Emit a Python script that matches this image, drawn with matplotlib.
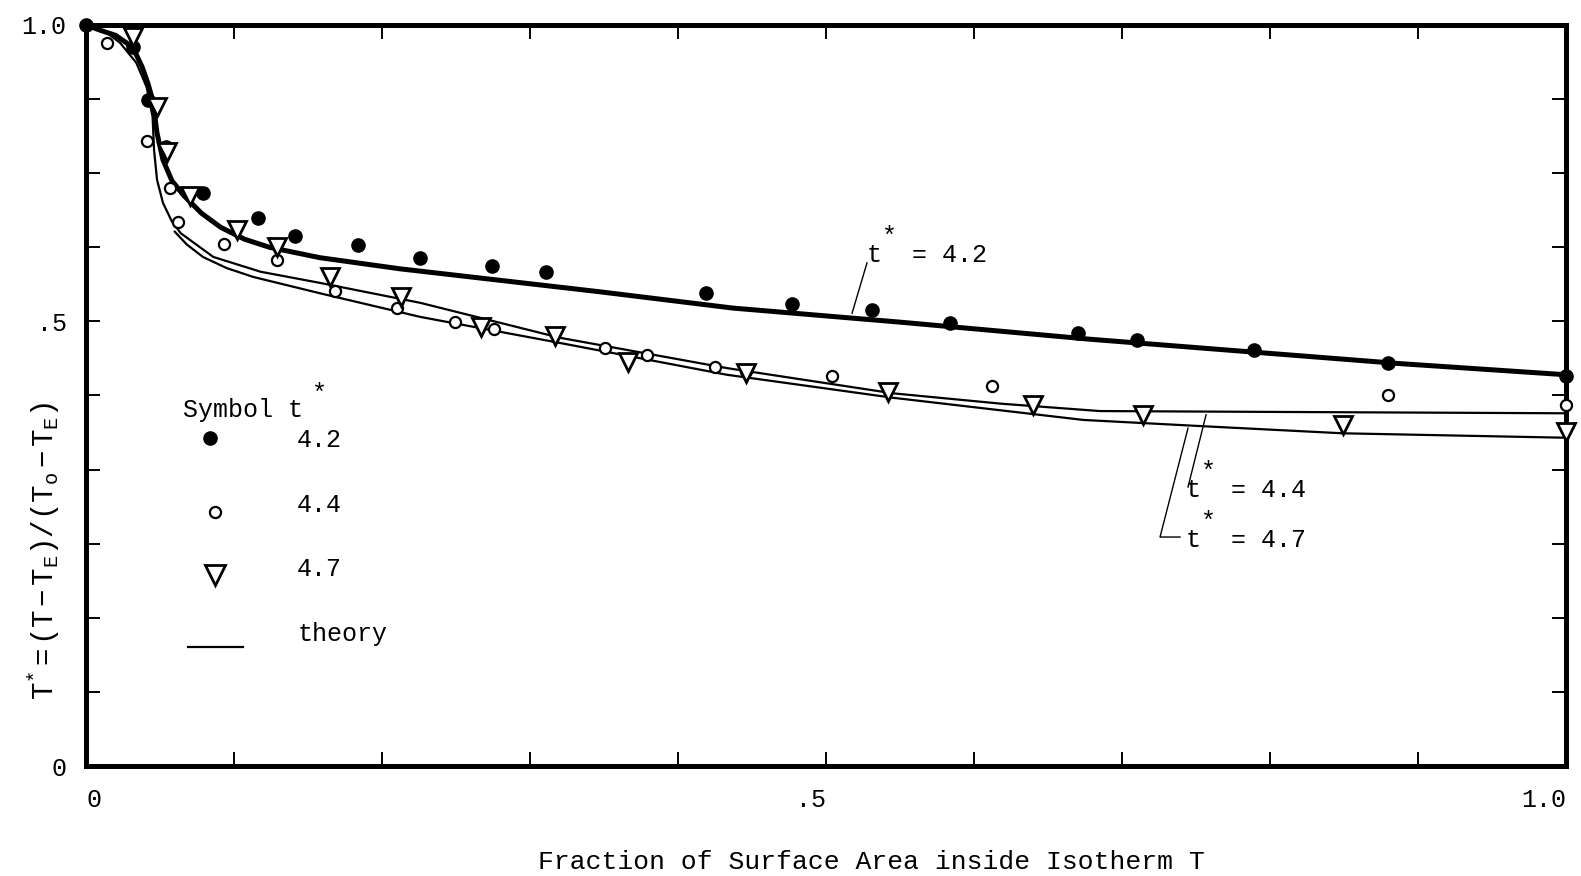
import matplotlib
matplotlib.use("Agg")
import matplotlib.pyplot as plt

plt.rcParams['font.family'] = ['Liberation Mono', 'DejaVu Sans Mono']
plt.rcParams['mathtext.fontset'] = 'custom'
plt.rcParams['mathtext.rm'] = 'Liberation Mono'
plt.rcParams['mathtext.it'] = 'Liberation Mono'
plt.rcParams['mathtext.bf'] = 'Liberation Mono'

# ---- measured points (x = area fraction, y = normalized temperature) ----
x_42 = [0.0, 0.032, 0.042, 0.054, 0.079, 0.116, 0.141, 0.184, 0.226, 0.274,
        0.311, 0.419, 0.477, 0.531, 0.584, 0.670, 0.710, 0.789, 0.880, 1.0]
y_42 = [1.0, 0.970, 0.899, 0.835, 0.773, 0.740, 0.715, 0.703, 0.686, 0.675,
        0.666, 0.638, 0.624, 0.615, 0.598, 0.584, 0.575, 0.561, 0.544, 0.526]

x_44 = [0.014, 0.041, 0.057, 0.062, 0.093, 0.129, 0.168, 0.210, 0.249, 0.276,
        0.351, 0.379, 0.425, 0.446, 0.504, 0.612, 0.880, 1.0]
y_44 = [0.976, 0.843, 0.780, 0.734, 0.704, 0.683, 0.641, 0.618, 0.599, 0.590,
        0.564, 0.555, 0.538, 0.533, 0.526, 0.513, 0.501, 0.487]

x_47 = [0.032, 0.048, 0.055, 0.070, 0.102, 0.129, 0.165, 0.213, 0.267, 0.317,
        0.366, 0.446, 0.542, 0.640, 0.714, 0.849, 1.0]
y_47 = [0.984, 0.889, 0.829, 0.769, 0.723, 0.700, 0.660, 0.633, 0.593, 0.580,
        0.545, 0.531, 0.505, 0.487, 0.474, 0.460, 0.451]

# ---- theory curves ----
xt_42 = [0.0, 0.0095, 0.020, 0.028, 0.034, 0.038, 0.042, 0.045, 0.048, 0.052,
         0.058, 0.066, 0.078, 0.091, 0.107, 0.124, 0.158, 0.212, 0.347, 0.437,
         0.550, 0.678, 0.786, 0.888, 1.0]
yt_42 = [1.0, 0.993, 0.986, 0.975, 0.960, 0.943, 0.920, 0.899, 0.854, 0.818,
         0.790, 0.770, 0.746, 0.727, 0.711, 0.700, 0.686, 0.671, 0.640, 0.618,
         0.599, 0.576, 0.559, 0.543, 0.528]

xt_44 = [0.0, 0.0074, 0.015, 0.023, 0.034, 0.041, 0.045, 0.046, 0.048, 0.052,
         0.058, 0.064, 0.086, 0.118, 0.158, 0.226, 0.320, 0.433, 0.545, 0.618,
         0.685, 0.786, 1.0]
yt_44 = [1.0, 0.996, 0.988, 0.976, 0.949, 0.916, 0.876, 0.831, 0.791, 0.760,
         0.735, 0.719, 0.687, 0.667, 0.652, 0.625, 0.578, 0.537, 0.503, 0.489,
         0.479, 0.478, 0.476]

xt_47 = [0.060, 0.068, 0.079, 0.095, 0.113, 0.158, 0.226, 0.320, 0.433, 0.545,
         0.674, 0.760, 0.849, 1.0]
yt_47 = [0.721, 0.704, 0.687, 0.672, 0.660, 0.638, 0.606, 0.571, 0.528, 0.497,
         0.467, 0.458, 0.449, 0.443]

x_ticks = [i / 10 for i in range(11)]
x_ticklabels = ["0", "", "", "", "", ".5", "", "", "", "", "1.0"]
y_ticks = [i / 10 for i in range(11)]
y_ticklabels = ["0", "", "", "", "", "", ".5", "", "", "", "1.0"]

fig = plt.figure(figsize=(15.81, 8.76), dpi=100)
ax = fig.add_axes([86 / 1581, 1 - 766 / 876, 1480 / 1581, 741 / 876])
ax.set_xlim(0, 1)
ax.set_ylim(0, 1)

# theory lines
ax.plot(xt_42, yt_42, color='black', lw=3.6, solid_joinstyle='round', zorder=3)
ax.plot(xt_44, yt_44, color='black', lw=1.6, solid_joinstyle='round', zorder=3)
ax.plot(xt_47, yt_47, color='black', lw=1.6, solid_joinstyle='round', zorder=3)

# data symbols
ax.plot(x_42, y_42, ls='none', marker='o', ms=9.5, mfc='black', mec='black',
        clip_on=False, zorder=4)
ax.plot(x_44, y_44, ls='none', marker='o', ms=8, mfc='white', mec='black',
        mew=1.6, clip_on=False, zorder=4)
ax.plot(x_47, y_47, ls='none', marker='v', ms=13.5, mfc='white', mec='black',
        mew=2.0, clip_on=False, zorder=4)

# axes frame and ticks
for side in ['left', 'bottom', 'top', 'right']:
    ax.spines[side].set_linewidth(3.6)
ax.set_xticks(x_ticks)
ax.set_xticklabels(x_ticklabels)
ax.set_yticks(y_ticks)
ax.set_yticklabels(y_ticklabels)
ax.tick_params(direction='in', top=True, right=True, length=10, width=1.4,
               labelsize=18)
ax.tick_params(axis='x', pad=16)
ax.tick_params(axis='y', pad=14)
for lab in ax.get_xticklabels():
    if lab.get_text() == "0":
        lab.set_ha('left')
        lab.set_x(0.004)
    elif lab.get_text():
        lab.set_ha('right')

fs = 18
# legend block
ax.text(0.0655, 0.471, "Symbol t", fontsize=fs, va='baseline', ha='left')
ax.text(0.1527, 0.493, "*", fontsize=fs, va='baseline', ha='left')
ax.plot([0.0838], [0.4426], marker='o', ms=9.5, mfc='black', mec='black')
ax.plot([0.0872], [0.3428], marker='o', ms=8, mfc='white', mec='black', mew=1.6)
ax.plot([0.0872], [0.2578], marker='v', ms=14, mfc='white', mec='black', mew=2.0)
ax.plot([0.0689, 0.1061], [0.1606, 0.1606], color='black', lw=1.6)
ax.text(0.1426, 0.4305, "4.2", fontsize=fs, va='baseline', ha='left')
ax.text(0.1426, 0.3430, "4.4", fontsize=fs, va='baseline', ha='left')
ax.text(0.1426, 0.2564, "4.7", fontsize=fs, va='baseline', ha='left')
ax.text(0.1432, 0.1687, "theory", fontsize=fs, va='baseline', ha='left')

# curve labels with leader lines
cell = 15.2 / 1480
def curve_label(x, y, value):
    ax.text(x, y, "t  = " + value, fontsize=fs, va='baseline', ha='left')
    ax.text(x + cell, y + 0.024, "*", fontsize=fs, va='baseline', ha='left')

curve_label(0.5277, 0.680, "4.2")
ax.plot([0.5277, 0.5176], [0.679, 0.611], color='black', lw=1.0)

curve_label(0.7432, 0.3630, "4.4")
ax.plot([0.7446, 0.7568], [0.3765, 0.474], color='black', lw=1.0)

curve_label(0.7432, 0.2955, "4.7")
ax.plot([0.7392, 0.7257, 0.7446], [0.309, 0.309, 0.456], color='black', lw=1.0)

# axis titles
fig.text(871 / 1581, 1 - 862 / 876, "Fraction of Surface Area inside Isotherm T",
         fontsize=19, ha='center', va='center')
fig.text(44 / 1581, 1 - 551 / 876,
         r"$\mathrm{T^{*}=(T-T_{E})/(T_{o}-T_{E})}$",
         fontsize=21, rotation=90, ha='center', va='center')

fig.savefig("out.png", dpi=100)
